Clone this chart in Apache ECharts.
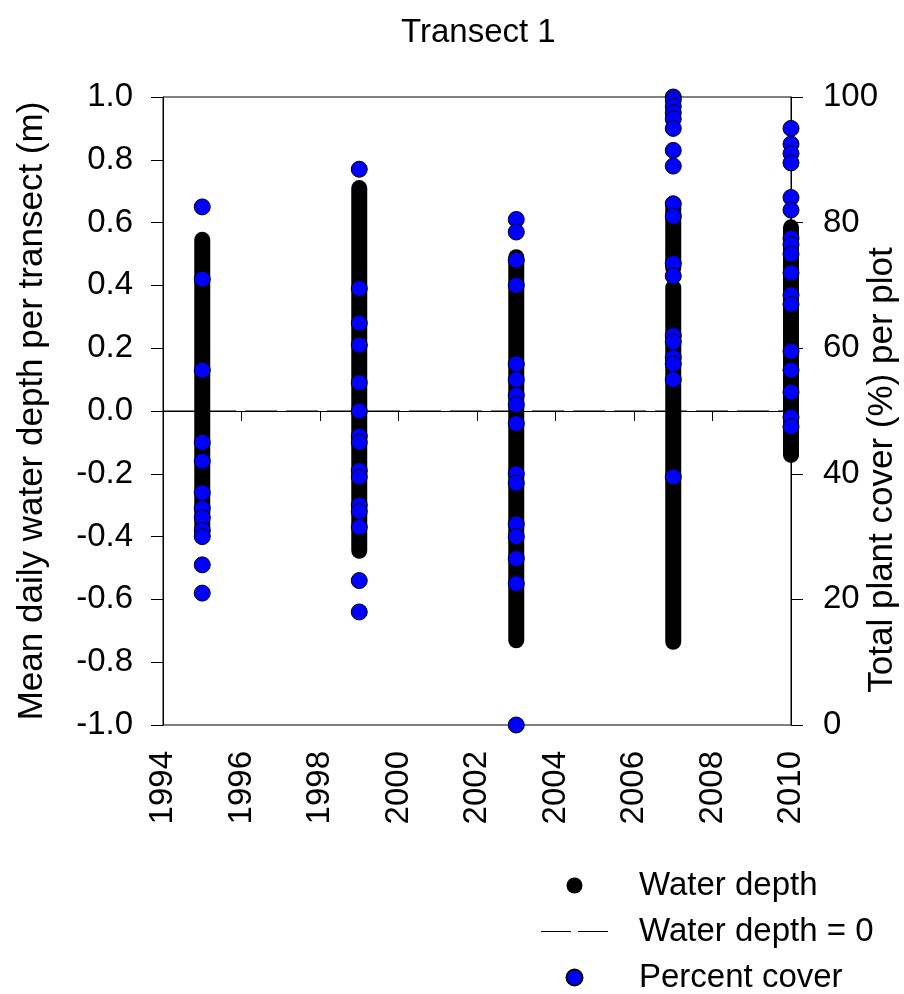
<!DOCTYPE html>
<html>

<head>
    <meta charset="utf-8">
    <script src="https://cdn.jsdelivr.net/npm/echarts@6/dist/echarts.min.js"></script>
</head>

<body style="margin:0">
    <div id="main" style="width:904px;height:994px"></div>
    <script type="text/javascript">

        // water depth: each sampled year shows a solid column of daily values (low .. high)
        var depthYears = [1995, 1999, 2003, 2007, 2007, 2010];
        var depthLow = [-0.40, -0.445, -0.73, 0.455, -0.735, -0.14];
        var depthHigh = [0.545, 0.71, 0.49, 0.65, 0.393, 0.585];

        // percent cover per plot, one list per year
        var coverYears = [1995, 1999, 2003, 2007, 2010];
        var cover1995 = [82.5, 71, 56.5, 45, 42, 37, 34.5, 33, 31, 30, 25.5, 21];
        var cover1999 = [88.5, 69.5, 64, 60.5, 54.5, 50, 46, 45, 40.5, 39.5, 35, 34, 31.5, 23, 18];
        var cover2003 = [80.5, 78.5, 74, 70, 57.5, 55, 52.5, 51, 48, 40, 38.5, 32, 30, 26.5, 22.5, 0];
        var cover2007 = [100, 99.5, 98.5, 97.5, 96.5, 95, 91.5, 89, 83, 81, 73.5, 71.5, 62, 61, 58.5, 57.5, 55, 39.5];
        var cover2010 = [95, 92.5, 91, 89.5, 84, 82, 77.5, 76.5, 75, 72, 68.5, 67, 59.5, 56.5, 53, 49, 47.5];
        var coverLists = [cover1995, cover1999, cover2003, cover2007, cover2010];

        var font = 'Liberation Sans, Arial, sans-serif';

        var coverData = [];
        coverYears.forEach(function (y, i) {
            coverLists[i].forEach(function (v) {
                coverData.push([y, v]);
            });
        });

        var series = [];
        series.push({
            name: 'Water depth = 0',
            type: 'line',
            data: [[1994, 0], [2010, 0]],
            symbol: 'none',
            itemStyle: { color: '#000' },
            lineStyle: { color: '#000', width: 1, type: [32, 9] },
            z: 1
        });
        depthYears.forEach(function (y, i) {
            series.push({
                name: 'Water depth',
                type: 'line',
                data: [[y, depthLow[i]], [y, depthHigh[i]]],
                symbol: 'none',
                itemStyle: { color: '#000' },
                lineStyle: { color: '#000', width: 16, cap: 'round' },
                z: 2
            });
        });
        series.push({
            name: 'Percent cover',
            type: 'scatter',
            yAxisIndex: 1,
            data: coverData,
            symbolSize: 16,
            itemStyle: { color: '#0000ff', borderColor: '#000', borderWidth: 1, opacity: 1 },
            z: 3
        });

        var myChart = echarts.init(document.getElementById('main'));
        myChart.setOption({
            animation: false,
            backgroundColor: '#fff',
            textStyle: { fontFamily: font },
            title: {
                text: 'Transect 1',
                left: 396,
                top: 11,
                textStyle: { fontFamily: font, fontSize: 33, fontWeight: 'normal', color: '#000' }
            },
            grid: {
                left: 163, right: 113, top: 97, bottom: 269,
                show: true, borderColor: '#000', borderWidth: 1
            },
            xAxis: {
                type: 'value',
                min: 1994, max: 2010, interval: 2,
                splitLine: { show: false },
                axisLine: { lineStyle: { color: '#000' } },
                axisTick: { length: 10, lineStyle: { color: '#000' } },
                axisLabel: {
                    rotate: 90, margin: 26, fontSize: 33, color: '#000', fontFamily: font,
                    formatter: function (v) { return String(v); }
                }
            },
            yAxis: [{
                type: 'value',
                min: -1, max: 1, interval: 0.2,
                name: 'Mean daily water depth per transect (m)',
                nameLocation: 'middle',
                nameGap: 113,
                nameTextStyle: { fontSize: 35, color: '#000', fontFamily: font },
                splitLine: { show: false },
                axisLine: { show: true, lineStyle: { color: '#000' } },
                axisTick: { show: true, length: 12, lineStyle: { color: '#000' } },
                axisLabel: {
                    margin: 30, fontSize: 33, color: '#000', fontFamily: font,
                    formatter: function (v) { return v.toFixed(1); }
                }
            }, {
                type: 'value',
                min: 0, max: 100, interval: 20,
                position: 'right',
                splitLine: { show: false },
                axisLine: { show: true, lineStyle: { color: '#000' } },
                axisTick: { show: true, length: 12, lineStyle: { color: '#000' } },
                axisLabel: { margin: 32, fontSize: 33, color: '#000', fontFamily: font }
            }],
            legend: {
                orient: 'vertical',
                left: 541,
                top: 869,
                width: 360,
                height: 160,
                padding: 0,
                itemWidth: 67,
                itemHeight: 16,
                itemGap: 13,
                selectedMode: false,
                textStyle: { fontSize: 33, lineHeight: 30, color: '#000', fontFamily: font, padding: [0, 0, 0, 26] },
                data: [
                    { name: 'Water depth', icon: 'circle', itemStyle: { color: '#000' } },
                    {
                        name: 'Water depth = 0',
                        icon: 'path://M0,0h30v1h-30z M37,0h30v1h-30z',
                        itemStyle: { color: '#000' }
                    },
                    { name: 'Percent cover', icon: 'circle' }
                ]
            },
            graphic: [{
                type: 'text',
                x: 882,
                y: 470,
                rotation: Math.PI / 2,
                style: {
                    text: 'Total plant cover (%) per plot',
                    font: '35px ' + font,
                    fill: '#000',
                    align: 'center',
                    verticalAlign: 'middle'
                }
            }],
            series: series
        });
    </script>
</body>

</html>
